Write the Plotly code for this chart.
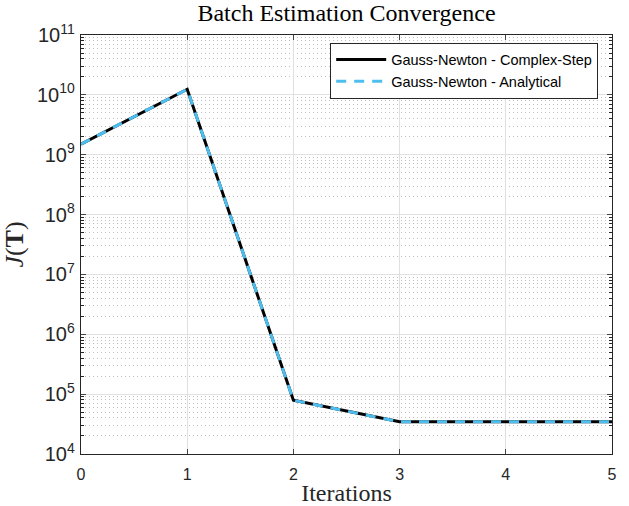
import plotly.graph_objects as go

iterations = [0, 1, 2, 3, 4, 5]
cost_complex = [1.5e9, 1.24e10, 7.9e4, 3.45e4, 3.45e4, 3.45e4]
cost_analytical = [1.5e9, 1.24e10, 7.9e4, 3.45e4, 3.45e4, 3.45e4]
series_names = ["Gauss-Newton - Complex-Step", "Gauss-Newton - Analytical"]

fig = go.Figure()
fig.add_trace(go.Scatter(x=iterations, y=cost_complex, mode="lines", name=series_names[0],
                         line=dict(color="black", width=3)))
fig.add_trace(go.Scatter(x=iterations, y=cost_analytical, mode="lines", name=series_names[1],
                         line=dict(color="#4DBEEE", width=3, dash="10px,8px")))

serif = "Liberation Serif, DejaVu Serif, serif"
sans = "Liberation Sans, Arial, sans-serif"

fig.update_layout(
    width=629, height=506,
    margin=dict(l=81, r=17, t=35, b=52),
    paper_bgcolor="white", plot_bgcolor="white",
    title=dict(text="Batch Estimation Convergence", x=0.5, xanchor="center", xref="paper",
               y=1, yref="container", yanchor="top", pad=dict(t=4),
               font=dict(family=serif, size=24, color="black")),
    font=dict(family=sans, size=14, color="#262626"),
    showlegend=True,
    legend=dict(x=0.974, y=0.982, xanchor="right", yanchor="top",
                bgcolor="white", bordercolor="#262626", borderwidth=1,
                font=dict(family=sans, size=14.5, color="black"),
                tracegroupgap=0, itemwidth=50),
    xaxis=dict(range=[0, 5], dtick=1, tick0=0, ticks="inside", ticklen=5,
               showline=True, linecolor="#262626", linewidth=1, mirror="ticks",
               showgrid=True, gridcolor="#e0e0e0", gridwidth=1, zeroline=False,
               automargin=False, ticklabelstandoff=6,
               tickfont=dict(family=sans, size=16, color="#262626"),
               title=dict(text="Iterations", font=dict(family=serif, size=24, color="#262626"), standoff=4)),
    yaxis=dict(type="log", range=[4, 11], dtick=1, ticks="inside", ticklen=5,
               exponentformat="power", showexponent="all",
               showline=True, linecolor="#262626", linewidth=1, mirror="ticks",
               showgrid=True, gridcolor="#e0e0e0", gridwidth=1, zeroline=False,
               automargin=False, ticklabelstandoff=2,
               tickfont=dict(family=sans, size=16, color="#262626"),
               minor=dict(ticks="inside", ticklen=3, showgrid=True, griddash="1px,3px",
                          gridcolor="#bfbfbf", gridwidth=1, tickcolor="#262626"),
               title=dict(text="<i>J</i>(<b>T</b>)", font=dict(family=serif, size=26, color="#262626"), standoff=10)),
)

fig.write_html("out.html")
